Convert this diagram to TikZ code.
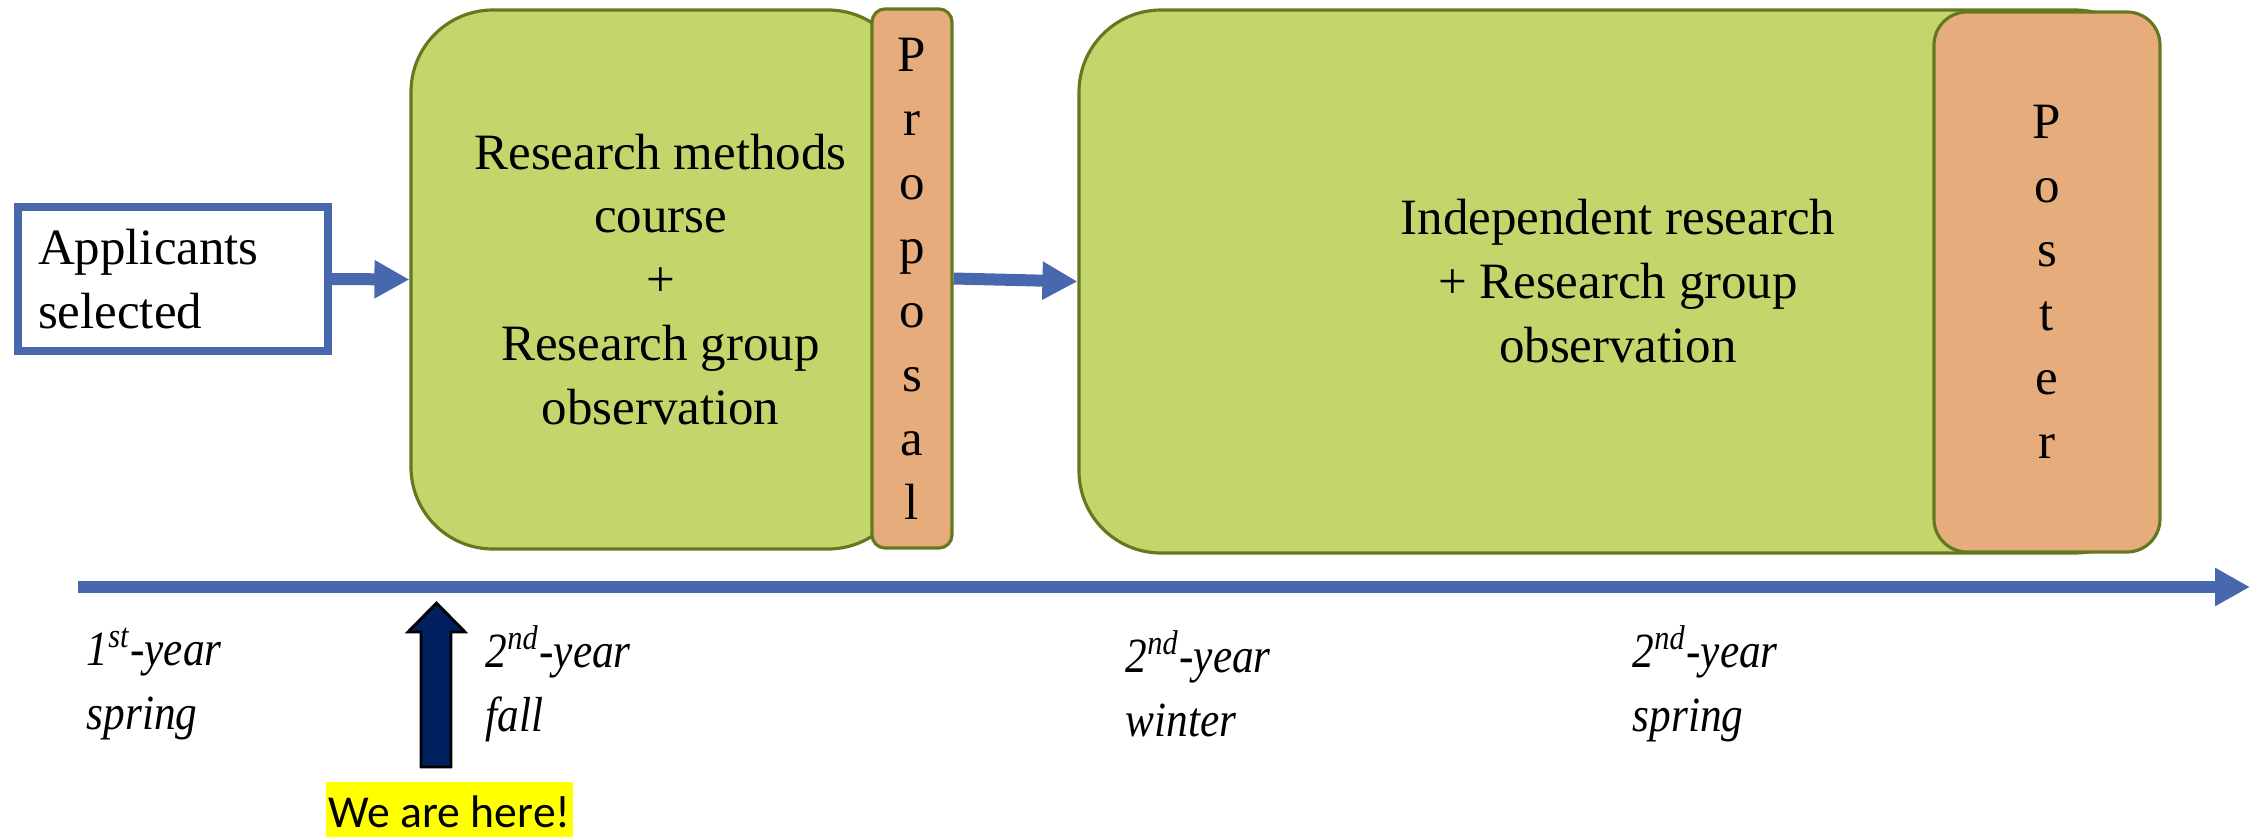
\documentclass[tikz,border=0pt]{standalone}
\usepackage{fontspec}
\setmainfont{Liberation Serif}
\newfontfamily\seasonfont[FakeStretch=0.88]{Liberation Serif}
\newfontfamily\notefont{Carlito}
\usetikzlibrary{positioning, arrows.meta}
\definecolor{Leaf}{HTML}{C2D66C}
\definecolor{LeafLine}{HTML}{66781F}
\definecolor{Peach}{HTML}{E6AC7B}
\definecolor{Flow}{HTML}{4868AE}
\definecolor{Navy}{HTML}{002060}
\definecolor{Marker}{HTML}{FFFF00}
\tikzset{
    phasebox/.style={rectangle, rounded corners=8.2mm, fill=Leaf, draw=LeafLine, line width=0.9pt, align=center, font=\fontsize{14.5}{18.2}\selectfont},
    tabbox/.style={rectangle, fill=Peach, draw=LeafLine, line width=0.9pt, inner sep=0pt, align=center, font=\fontsize{14.5}{18.2}\selectfont},
    startbox/.style={rectangle, draw=Flow, line width=0.8mm, fill=white, align=left, inner xsep=2mm, text width=2.7cm, font=\fontsize{14.5}{18.2}\selectfont},
    flowarrow/.style={-{Triangle[length=3.5mm, width=3.6mm]}, line width=1.2mm, color=Flow},
    seasonlabel/.style={anchor=west, inner sep=0pt, align=left, font=\seasonfont\itshape\fontsize{14}{18.2}\selectfont},
    herenote/.style={fill=Marker, inner xsep=0.3mm, minimum height=6mm, font=\notefont\fontsize{13}{15}\selectfont},
    herearrow/.style={fill=Navy, draw=black, line width=0.8pt},
}

\begin{document}
\begin{tikzpicture}
    \useasboundingbox (0,0) rectangle (22.62,-8.37);

    % Start
    \node[startbox, minimum height=1.44cm] (applicants) at (1.73,-2.79) {Applicants\\selected};

    % First phase + proposal tab
    \node[phasebox, minimum width=4.99cm, minimum height=5.39cm] (course) at (6.605,-2.795) {Research methods\\course\\+\\Research group\\observation};
    \node[tabbox, rounded corners=1.3mm, minimum width=8mm, minimum height=5.39cm] (proposal) at (9.12,-2.785) {P\\r\\o\\p\\o\\s\\a\\l};

    % Second phase + poster tab
    \node[phasebox, minimum width=10.78cm, minimum height=5.43cm] (independent) at (16.18,-2.815) {Independent research\\+ Research group\\observation};
    \node[tabbox, rounded corners=3.3mm, minimum width=2.26cm, minimum height=5.40cm] (poster) at (20.47,-2.82) {P\\o\\s\\t\\e\\r};

    % Flow
    \draw[flowarrow] (applicants.east) -- (course.west);
    \draw[flowarrow] (proposal.east) -- (independent.west);

    % Timeline
    \coordinate (tstart) at (0.78,-5.87);
    \coordinate (tend) at (22.50,-5.87);
    \draw[flowarrow] (tstart) -- (tend);

    \node[seasonlabel] (spring1) at (0.86,-6.84) {1\textsuperscript{st}-year\\spring};
    \node[seasonlabel] (fall2) at (4.85,-6.84) {2\textsuperscript{nd}-year\\fall};
    \node[seasonlabel] (winter2) at (11.25,-6.84) {2\textsuperscript{nd}-year\\winter};
    \node[seasonlabel] (spring2) at (16.32,-6.84) {2\textsuperscript{nd}-year\\spring};

    % Marker
    \draw[herearrow] (4.21,-7.67) -- (4.21,-6.32) -- (4.08,-6.32) -- (4.365,-6.03)
        -- (4.65,-6.32) -- (4.51,-6.32) -- (4.51,-7.67) -- cycle;
    \node[herenote] (here) at (4.495,-8.12) {We are here!};
\end{tikzpicture}
\end{document}
